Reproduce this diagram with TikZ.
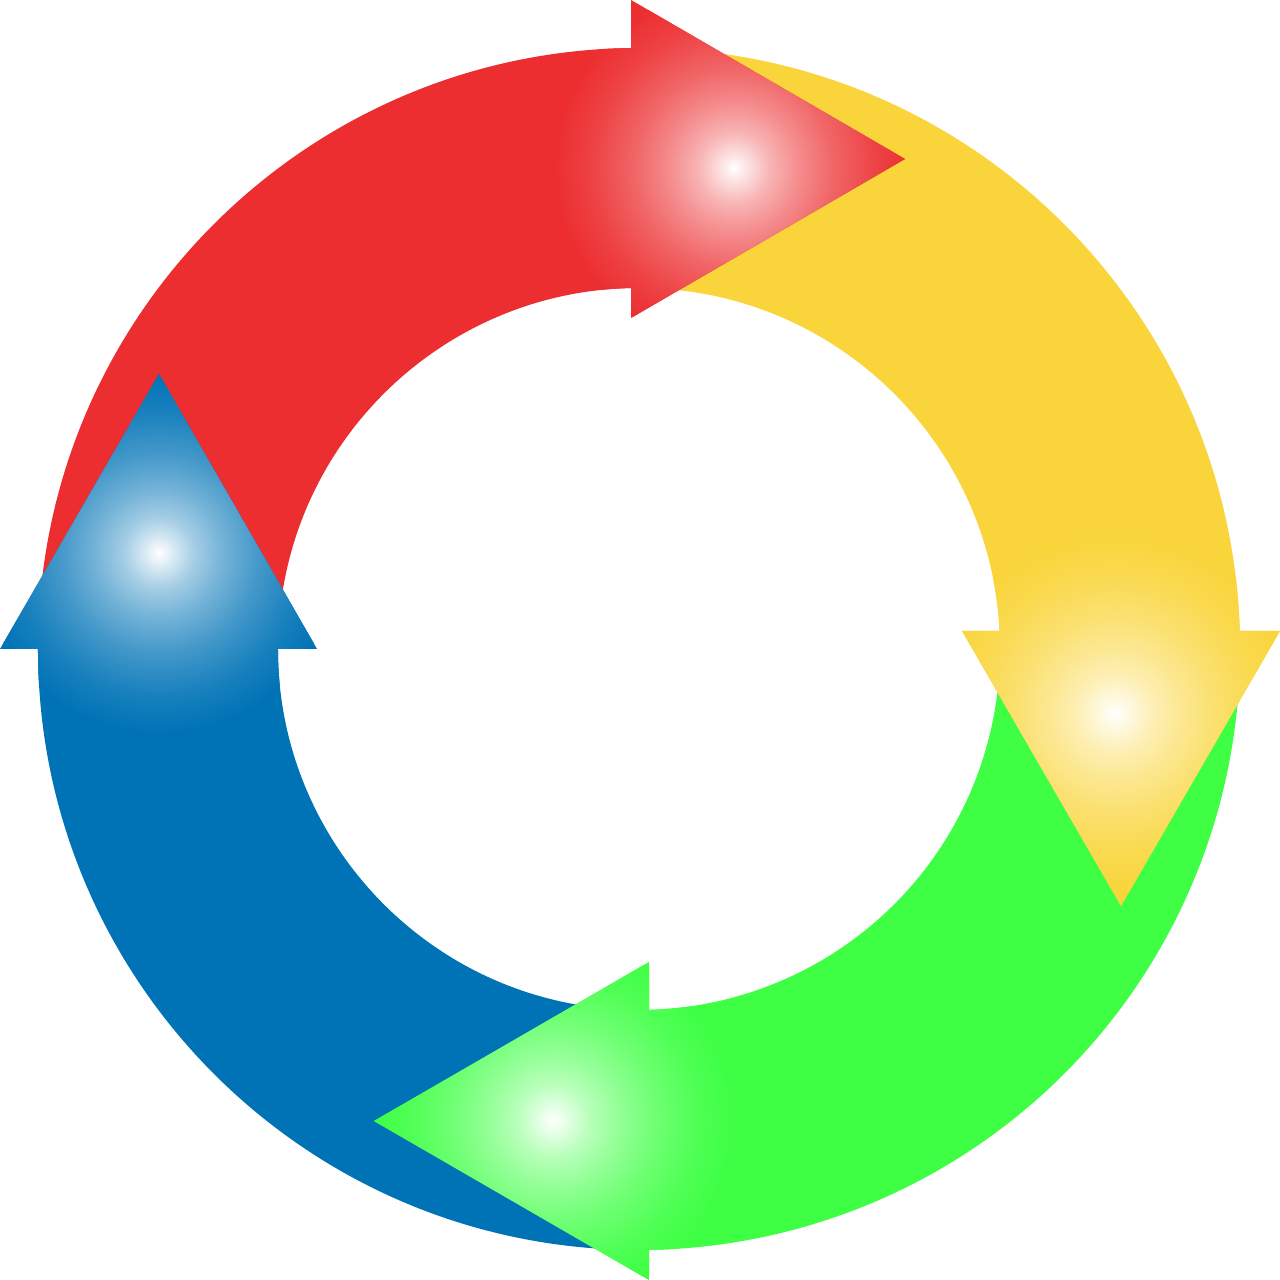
\documentclass[tikz,border=0pt]{standalone}
\usetikzlibrary{calc}

\definecolor{arrred}{RGB}{236,46,48}
\definecolor{arryel}{RGB}{249,213,59}
\definecolor{arrgrn}{RGB}{62,255,68}
\definecolor{arrblu}{RGB}{0,115,182}

% white highlight fading into the arrow colour
\newcommand{\declareglow}[1]{%
  \pgfdeclareradialshading{glow#1}{\pgfpoint{0bp}{0bp}}{%
    color(0bp)=(white); color(2bp)=(#1!15!white);
    color(5bp)=(#1!36!white); color(9bp)=(#1!55!white);
    color(14bp)=(#1!74!white); color(20bp)=(#1!91!white);
    color(25bp)=(#1); color(50bp)=(#1)}}
\declareglow{arrred}
\declareglow{arryel}
\declareglow{arrgrn}
\declareglow{arrblu}

\tikzset{
  band/.style 2 args={insert path={
    (#1:601) arc[start angle=#1, end angle=#2, radius=601]
    -- (#2:361) arc[start angle=#2, end angle=#1, radius=361] -- cycle}}
}

\begin{document}
\begin{tikzpicture}[
            x = 0.01cm, % one unit is one pixel
            y = 0.01cm,
        ]
        \useasboundingbox (-639,-631) rectangle (641,649);

        % ring parts
        \foreach \col/\from/\to in {arrred/178/88, arryel/88/1, arrgrn/-1/-92, arrblu/-92/-182}
            \fill[\col, band={\from}{\to}];

        % arrow heads with their highlight
        \foreach \col/\ta/\tb/\tc/\glow/\from/\to in {
                arrred/{(-8,649)}/{(266,490)}/{(-8,331)}/{(95,481)}/178/88,
                arryel/{(323,18)}/{(641,18)}/{(482,-257)}/{(476,-64)}/88/1,
                arrgrn/{(10,-313)}/{(10,-631)}/{(-265,-472)}/{(-86,-471)}/-1/-92,
                arrblu/{(-639,0)}/{(-322,0)}/{(-480,275)}/{(-480,96)}/-92/-182}
        {
            \fill[\col] \ta -- \tb -- \tc -- cycle;
            \begin{scope}
                \clip[band={\from}{\to}];
                \shade[shading=glow\col] \glow circle (180);
            \end{scope}
            \begin{scope}
                \clip \ta -- \tb -- \tc -- cycle;
                \shade[shading=glow\col] \glow circle (180);
            \end{scope}
        }
\end{tikzpicture}
\end{document}
